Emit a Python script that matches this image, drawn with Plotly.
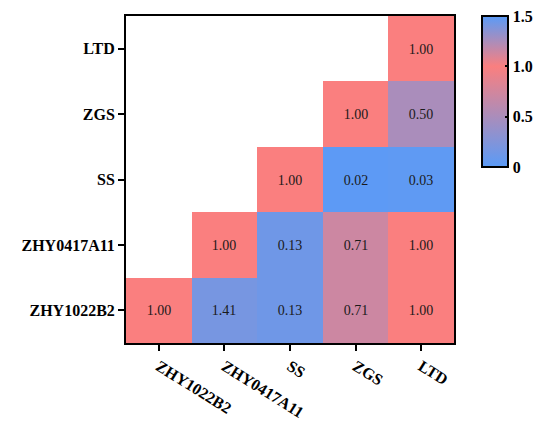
import plotly.graph_objects as go

# categories (x: left -> right, y: bottom -> top)
x_labels = ["ZHY1022B2", "ZHY0417A11", "SS", "ZGS", "LTD"]
y_labels = ["ZHY1022B2", "ZHY0417A11", "SS", "ZGS", "LTD"]

# values per row, None = empty cell
row_zhy1022b2 = [1.00, 1.41, 0.13, 0.71, 1.00]
row_zhy0417a11 = [None, 1.00, 0.13, 0.71, 1.00]
row_ss = [None, None, 1.00, 0.02, 0.03]
row_zgs = [None, None, None, 1.00, 0.50]
row_ltd = [None, None, None, None, 1.00]

cbar_ticks = [0, 0.5, 1.0, 1.5]
cbar_ticktext = ["0", "0.5", "1.0", "1.5"]

z = [row_zhy1022b2, row_zhy0417a11, row_ss, row_zgs, row_ltd]
text = [["" if v is None else f"{v:.2f}" for v in row] for row in z]

BLUE = "#5A9BF7"
RED = "#FA7F7F"
FONT = "Liberation Serif"

fig = go.Figure(
    go.Heatmap(
        x=x_labels,
        y=y_labels,
        z=z,
        text=text,
        texttemplate="%{text}",
        textfont=dict(family=FONT, size=14, color="#1a1a1a"),
        zmin=0,
        zmax=1.5,
        colorscale=[[0, BLUE], [2 / 3, RED], [1, BLUE]],
        hoverongaps=False,
        colorbar=dict(
            x=1.085,
            xanchor="left",
            xpad=0,
            y=1,
            yanchor="top",
            ypad=0,
            len=0.462,
            lenmode="fraction",
            thickness=26,
            outlinewidth=2,
            outlinecolor="black",
            tickvals=cbar_ticks,
            ticktext=cbar_ticktext,
            ticks="inside",
            ticklen=4,
            tickwidth=2,
            tickcolor="black",
            ticklabeloverflow="allow",
            tickfont=dict(family=FONT, size=16, color="black", weight="bold"),
        ),
    )
)

axis_common = dict(
    showline=True,
    linecolor="black",
    linewidth=2,
    mirror=True,
    ticks="outside",
    ticklen=6,
    tickwidth=2,
    tickcolor="black",
    showgrid=False,
    zeroline=False,
    tickfont=dict(family=FONT, size=16, color="black", weight="bold"),
)

fig.update_xaxes(**axis_common, tickangle=32)
fig.update_yaxes(**axis_common)

# the page body adds an 8px offset, so the figure is sized to fit the window
fig.update_layout(
    width=542,
    height=416,
    margin=dict(l=118, r=96, t=8, b=81, autoexpand=False),
    plot_bgcolor="white",
    paper_bgcolor="white",
)

fig.write_html("out.html")
